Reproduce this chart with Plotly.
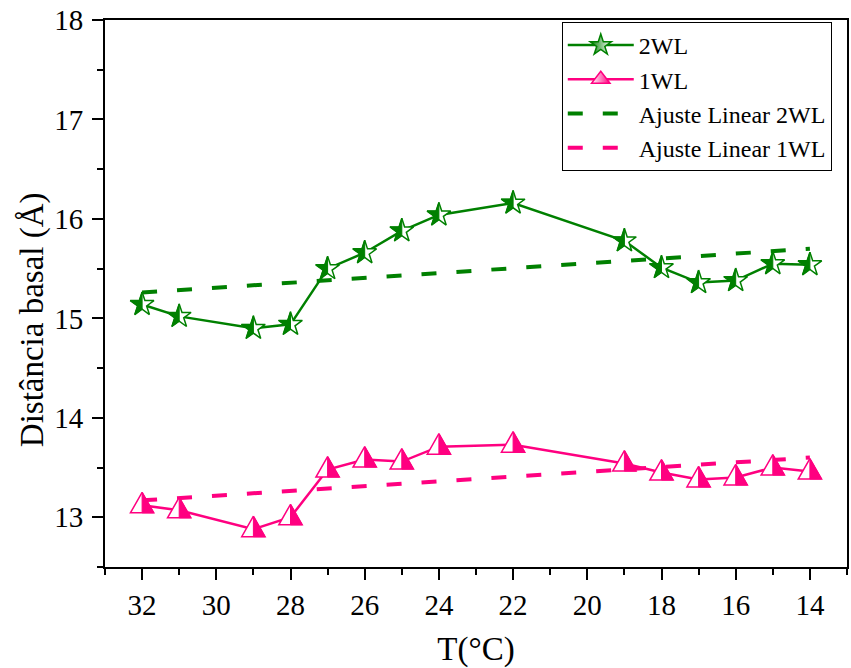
import plotly.graph_objects as go

# ---------------- data ----------------
temp = [32, 31, 29, 28, 27, 26, 25, 24, 22, 19, 18, 17, 16, 15, 14]
d_2wl = [15.14, 15.02, 14.90, 14.94, 15.50, 15.66, 15.88, 16.04, 16.16,
         15.78, 15.51, 15.36, 15.38, 15.55, 15.54]
d_1wl = [13.12, 13.07, 12.88, 13.00, 13.48, 13.58, 13.56, 13.71, 13.73,
         13.54, 13.45, 13.38, 13.40, 13.50, 13.46]
fit_x = [32, 14]
fit_2wl = [15.26, 15.70]
fit_1wl = [13.17, 13.60]

x_ticks = [32, 30, 28, 26, 24, 22, 20, 18, 16, 14]
y_ticks = [13, 14, 15, 16, 17, 18]

GREEN = "#008000"
PINK = "#ff0080"
FONT = "Liberation Serif"

# ---------------- layout geometry ----------------
W, H = 851, 668
ML, MR, MT, MB = 105, 2, 20, 101
XR = [33, 13]
YR = [12.5, 18]
px_x = (W - ML - MR) / abs(XR[0] - XR[1])
px_y = (H - MT - MB) / (YR[1] - YR[0])

# marker shapes in pixels (svg orientation, y down)
R = 12.5
star_full = [(0, -R), (0.225 * R, -0.309 * R), (0.951 * R, -0.309 * R),
             (0.363 * R, 0.118 * R), (0.588 * R, 0.809 * R), (0, 0.382 * R),
             (-0.588 * R, 0.809 * R), (-0.363 * R, 0.118 * R),
             (-0.951 * R, -0.309 * R), (-0.225 * R, -0.309 * R), (0, -R)]
star_left = [(0, -R), (-0.225 * R, -0.309 * R), (-0.951 * R, -0.309 * R),
             (-0.363 * R, 0.118 * R), (-0.588 * R, 0.809 * R), (0, 0.382 * R),
             (0, -R)]
TH, TB, TW = 13.0, 7.5, 11.7
tri_full = [(0, -TH), (TW, TB), (-TW, TB), (0, -TH)]
tri_right = [(0, -TH), (0, TB), (TW, TB), (0, -TH)]


def polys(xs, ys, shape):
    X, Y = [], []
    for x0, y0 in zip(xs, ys):
        for dx, dy in shape:
            X.append(x0 - dx / px_x)  # reversed x axis
            Y.append(y0 - dy / px_y)
        X.append(None)
        Y.append(None)
    return X, Y


fig = go.Figure()

# linear fits (behind everything)
fig.add_trace(go.Scatter(x=fit_x, y=fit_2wl, mode="lines", name="Ajuste Linear 2WL",
                         line=dict(color=GREEN, width=4, dash="15px,20px"), legendrank=3))
fig.add_trace(go.Scatter(x=fit_x, y=fit_1wl, mode="lines", name="Ajuste Linear 1WL",
                         line=dict(color=PINK, width=4, dash="15px,20px"), legendrank=4))

# connecting lines
fig.add_trace(go.Scatter(x=temp, y=d_2wl, mode="lines", showlegend=False,
                         line=dict(color=GREEN, width=2.5)))
fig.add_trace(go.Scatter(x=temp, y=d_1wl, mode="lines", showlegend=False,
                         line=dict(color=PINK, width=2.5)))

# half-filled star markers
sx, sy = polys(temp, d_2wl, star_full)
fig.add_trace(go.Scatter(x=sx, y=sy, mode="lines", fill="toself", fillcolor="white",
                         line=dict(color=GREEN, width=1.5), showlegend=False, hoverinfo="skip"))
sx, sy = polys(temp, d_2wl, star_left)
fig.add_trace(go.Scatter(x=sx, y=sy, mode="lines", fill="toself", fillcolor=GREEN,
                         line=dict(color=GREEN, width=1), showlegend=False, hoverinfo="skip"))

# half-filled triangle markers
tx, ty = polys(temp, d_1wl, tri_full)
fig.add_trace(go.Scatter(x=tx, y=ty, mode="lines", fill="toself", fillcolor="white",
                         line=dict(color=PINK, width=1.5), showlegend=False, hoverinfo="skip"))
tx, ty = polys(temp, d_1wl, tri_right)
fig.add_trace(go.Scatter(x=tx, y=ty, mode="lines", fill="toself", fillcolor=PINK,
                         line=dict(color=PINK, width=1), showlegend=False, hoverinfo="skip"))

# legend entries for the data series
fig.add_trace(go.Scatter(x=[None], y=[None], mode="lines+markers", name="2WL", legendrank=1,
                         line=dict(color=GREEN, width=2.5),
                         marker=dict(symbol="star", size=19, color=GREEN,
                                     gradient=dict(type="horizontal", color="white"),
                                     line=dict(color=GREEN, width=1.5))))
fig.add_trace(go.Scatter(x=[None], y=[None], mode="lines+markers", name="1WL", legendrank=2,
                         line=dict(color=PINK, width=2.5),
                         marker=dict(symbol="triangle-up", size=20, color="white",
                                     gradient=dict(type="horizontal", color=PINK),
                                     line=dict(color=PINK, width=1.5))))

tickfont = dict(family=FONT, size=29, color="black")
axis_common = dict(showgrid=False, zeroline=False, linecolor="black", linewidth=2,
                   tickcolor="black", tickwidth=2, tickfont=tickfont)

fig.update_layout(
    width=W, height=H,
    margin=dict(l=ML, r=MR, t=MT, b=MB),
    plot_bgcolor="white", paper_bgcolor="white",
    font=dict(family=FONT, color="black"),
    xaxis=dict(range=XR, tickmode="array", tickvals=x_ticks, ticks="outside", ticklen=11,
               showline=True, mirror=True,
               minor=dict(dtick=1, tick0=0, ticks="outside", ticklen=6, tickwidth=2,
                          tickcolor="black"),
               title=dict(text="T(°C)", font=dict(family=FONT, size=33), standoff=20),
               **axis_common),
    yaxis=dict(range=YR, tickmode="array", tickvals=y_ticks, ticks="outside", ticklen=11,
               showline=True, mirror=True, ticklabelstandoff=3,
               minor=dict(dtick=0.5, tick0=0, ticks="outside", ticklen=6, tickwidth=2,
                          tickcolor="black"),
               **axis_common),
    xaxis2=dict(range=XR, overlaying="x", side="top", anchor="y", tickmode="array",
                tickvals=x_ticks, ticks="inside", ticklen=11, showticklabels=False,
                showline=False, showgrid=False, zeroline=False, tickcolor="black", tickwidth=2,
                minor=dict(dtick=1, tick0=0, ticks="inside", ticklen=6, tickwidth=2,
                           tickcolor="black")),
    yaxis2=dict(range=YR, overlaying="y", side="right", anchor="x", tickmode="array",
                tickvals=y_ticks, ticks="inside", ticklen=11, showticklabels=False,
                showline=False, showgrid=False, zeroline=False, tickcolor="black", tickwidth=2,
                minor=dict(dtick=0.5, tick0=0, ticks="inside", ticklen=6, tickwidth=2,
                           tickcolor="black")),
    legend=dict(x=(563 - ML) / (W - ML - MR), y=(H - MB - 22) / (H - MT - MB),
                xanchor="left", yanchor="top", bgcolor="white", bordercolor="black",
                borderwidth=1, font=dict(family=FONT, size=24, color="black"),
                itemwidth=66, traceorder="normal"),
    annotations=[dict(text="Distância basal (Å)", textangle=-90, xref="paper", yref="paper",
                      x=(32 - ML) / (W - ML - MR), y=(H - MB - 320) / (H - MT - MB),
                      xanchor="center", yanchor="middle", showarrow=False,
                      font=dict(family=FONT, size=33, color="black"))],
)

fig.write_html("out.html")
